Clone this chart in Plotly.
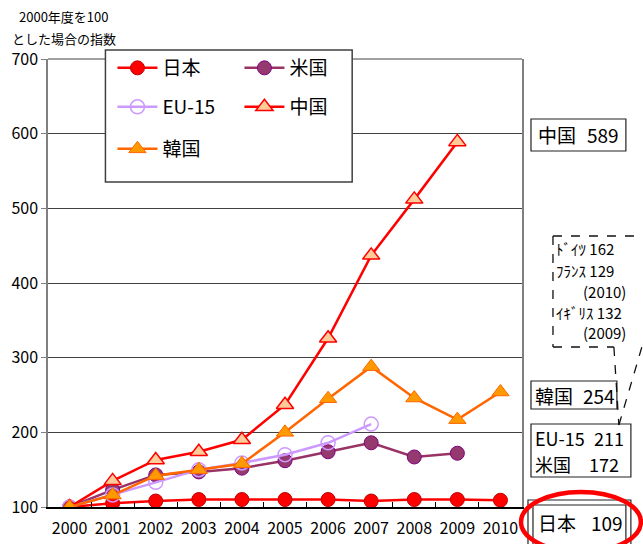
import plotly.graph_objects as go

# 2000年度を100とした場合の指数
years = ["2000", "2001", "2002", "2003", "2004", "2005", "2006", "2007", "2008", "2009", "2010"]
japan = [100, 105, 108, 110, 110, 110, 110, 108, 110, 110, 109]
usa = [100, 123, 143, 147, 152, 162, 174, 186, 167, 172, None]
eu15 = [100, 116, 133, 150, 159, 170, 186, 211, None, None, None]
china = [100, 135, 163, 174, 190, 237, 326, 437, 512, 589, None]
korea = [100, 116, 142, 150, 158, 200, 245, 288, 246, 217, 254]

FONT = "Noto Sans CJK JP"
W, H = 643, 544
L, R, T, B = 47.5, 522, 59, 507  # plot area edges in px


def px(x):
    return (x - L) / (R - L)


def py(y):
    return (B - y) / (B - T)


fig = go.Figure()

fig.add_trace(go.Scatter(
    x=years, y=japan, name="日本", mode="lines+markers", legend="legend",
    line=dict(color="#FF0000", width=2.5),
    marker=dict(symbol="circle", size=14, color="#FF0000", line=dict(color="#C00000", width=1)),
))
fig.add_trace(go.Scatter(
    x=years, y=usa, name="米国", mode="lines+markers", legend="legend",
    line=dict(color="#993366", width=2.5),
    marker=dict(symbol="circle", size=14, color="#953A6E", line=dict(color="#800080", width=1)),
))
fig.add_trace(go.Scatter(
    x=years, y=eu15, name="EU-15", mode="lines+markers", legend="legend2",
    line=dict(color="#CC99FF", width=2.5),
    marker=dict(symbol="circle", size=14, color="rgba(255,255,255,0)", line=dict(color="#CC99FF", width=1.5)),
))
fig.add_trace(go.Scatter(
    x=years, y=china, name="中国", mode="lines+markers", legend="legend2",
    line=dict(color="#FF0000", width=2.5),
    marker=dict(symbol="triangle-up", size=15, color="#FFCC99", line=dict(color="#FF0000", width=1.5)),
))
fig.add_trace(go.Scatter(
    x=years, y=korea, name="韓国", mode="lines+markers", legend="legend3",
    line=dict(color="#FF6600", width=2.5),
    marker=dict(symbol="triangle-up", size=15, color="#FF9900", line=dict(color="#FF6600", width=1)),
))

shapes = []
# plot frame top edge
shapes.append(dict(type="line", xref="paper", yref="paper", x0=0, x1=1, y0=1, y1=1,
                   line=dict(color="#808080", width=1.5), layer="below"))
# legend frame
shapes.append(dict(type="rect", xref="paper", yref="paper",
                   x0=px(105), x1=px(352), y0=py(182), y1=py(50),
                   fillcolor="white", line=dict(color="#404040", width=1.5), layer="above"))


# value boxes on the right
def box(x0, x1, y0, y1, width=1.2):
    shapes.append(dict(type="rect", xref="paper", yref="paper",
                       x0=px(x0), x1=px(x1), y0=py(y1), y1=py(y0),
                       fillcolor="rgba(255,255,255,0)", line=dict(color="#222222", width=width)))


box(531, 626, 119, 151)
box(531, 617, 381, 409)
box(531, 631, 424, 477)
box(528, 631, 500, 560)
box(533, 626, 505, 560)


# dashed callout for ドイツ / フランス / イギリス (open on the right)
def dashed(x0, y0, x1, y1):
    shapes.append(dict(type="line", xref="paper", yref="paper",
                       x0=px(x0), y0=py(y0), x1=px(x1), y1=py(y1),
                       line=dict(color="#111111", width=1.3, dash="dash")))


dashed(553, 236, 650, 236)
dashed(553, 236, 553, 347)
dashed(553, 347, 614, 347)
dashed(614, 347, 619, 425)
dashed(619, 425, 642, 347)

# red ellipse around 日本
shapes.append(dict(type="circle", xref="paper", yref="paper",
                   x0=px(521), x1=px(641), y0=py(552), y1=py(492),
                   line=dict(color="#FF0000", width=4.5)))

annotations = []


def label(text, x, y, xanchor="left", size=19):
    annotations.append(dict(text=text, x=px(x), y=py(y), xref="paper", yref="paper",
                            xanchor=xanchor, yanchor="middle", showarrow=False,
                            font=dict(family=FONT, size=size, color="black")))


# axis caption
label("2000年度を100", 64, 16, xanchor="center", size=13)
label("とした場合の指数", 64, 38, xanchor="center", size=13)

label("中国", 536, 135)
label("589", 621, 135, xanchor="right")
label("韓国", 533, 395)
label("254", 617, 395, xanchor="right")
label("EU-15", 533, 438, size=18)
label("211", 626, 438, xanchor="right", size=18)
label("米国", 533, 464, size=18)
label("172", 621, 464, xanchor="right", size=18)
label("日本", 536, 522)
label("109", 625, 522, xanchor="right")

label("ﾄﾞｲﾂ 162", 554, 248, size=15)
label("ﾌﾗﾝｽ 129", 554, 270, size=15)
label("(2010)", 581, 291, size=15)
label("ｲｷﾞﾘｽ 132", 554, 312, size=15)
label("(2009)", 581, 332, size=15)

legend_common = dict(orientation="h", xanchor="left", yanchor="middle",
                     bgcolor="rgba(0,0,0,0)", borderwidth=0,
                     entrywidth=72, entrywidthmode="pixels", itemwidth=40,
                     font=dict(family=FONT, size=19, color="black"))

fig.update_layout(
    width=W, height=H,
    margin=dict(l=L, r=W - R, t=T, b=H - B, pad=0, autoexpand=False),
    paper_bgcolor="white", plot_bgcolor="white",
    font=dict(family=FONT, color="black"),
    showlegend=True,
    legend=dict(x=px(112), y=py(68), **legend_common),
    legend2=dict(x=px(112), y=py(107), **legend_common),
    legend3=dict(x=px(112), y=py(149), **legend_common),
    xaxis=dict(
        type="category", range=[-0.5, 10.5],
        showline=True, linecolor="black", linewidth=1.5,
        ticks="inside", tickson="boundaries", ticklen=5, tickcolor="black",
        showgrid=False, tickangle=0, automargin=False,
        tickfont=dict(family=FONT, size=16, color="black"),
        ticklabelstandoff=6,
    ),
    yaxis=dict(
        range=[100, 700], dtick=100, tick0=100,
        showline=True, linecolor="#808080", linewidth=1.5, mirror=True,
        ticks="outside", ticklen=5, tickcolor="#808080", automargin=False,
        showgrid=True, gridcolor="#404040", gridwidth=1,
        zeroline=False, tickfont=dict(family=FONT, size=16, color="black"),
    ),
    shapes=shapes,
    annotations=annotations,
)

fig.write_html("out.html")
